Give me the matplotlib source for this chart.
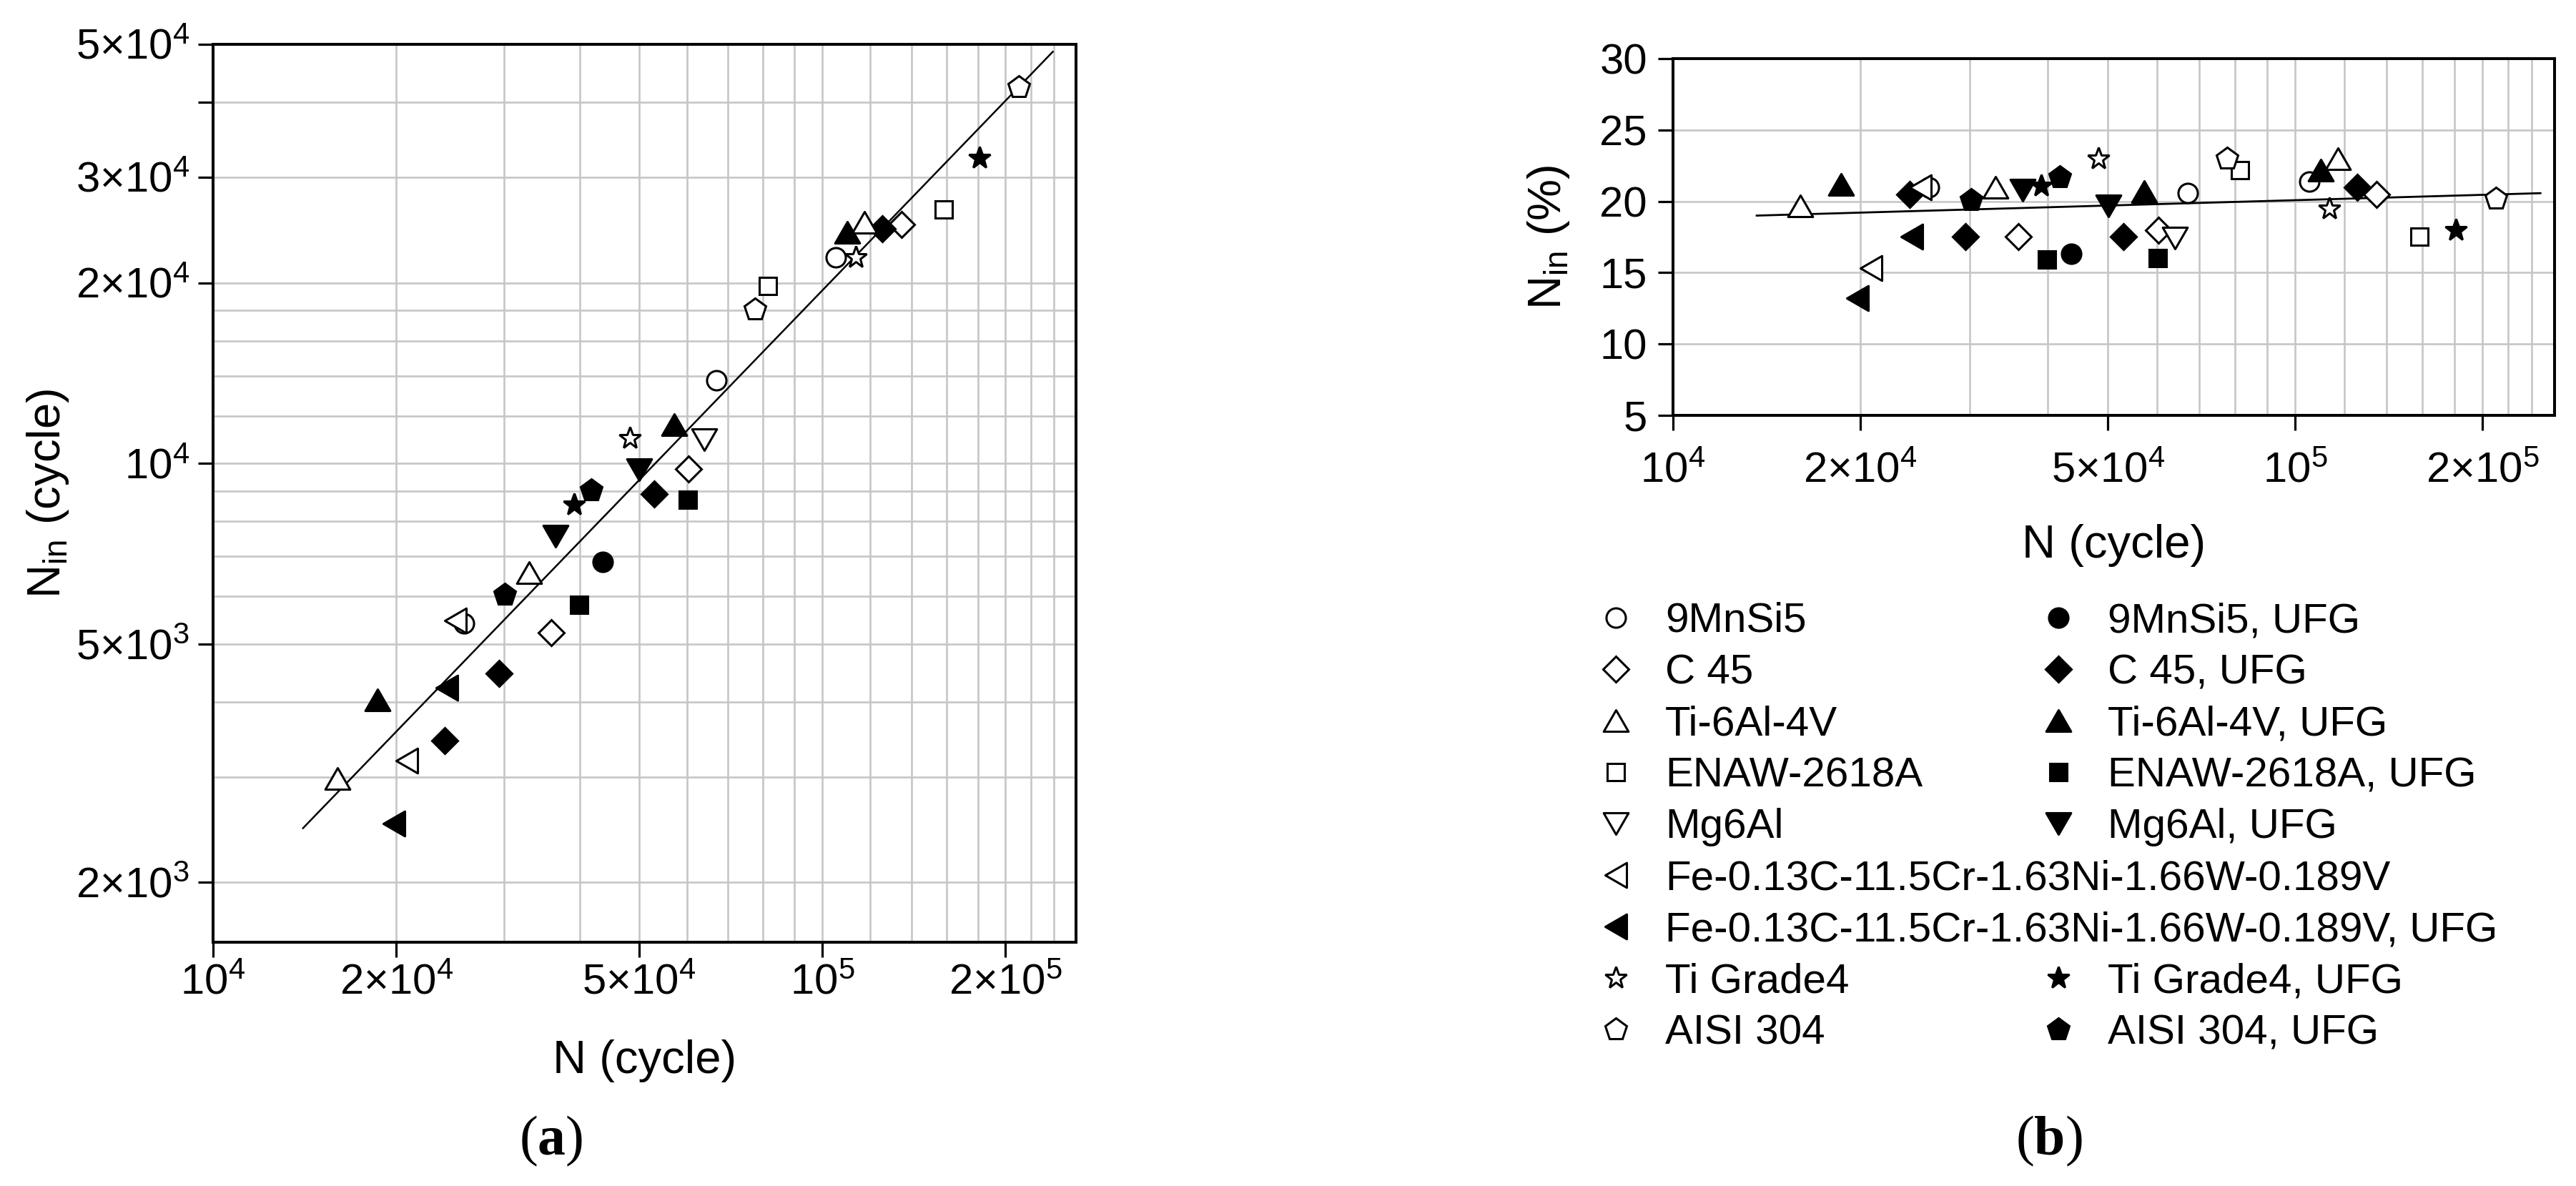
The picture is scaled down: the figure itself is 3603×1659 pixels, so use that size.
import matplotlib
matplotlib.use("Agg")
import matplotlib.pyplot as plt
from matplotlib.path import Path
from matplotlib.lines import Line2D
from matplotlib.ticker import FixedLocator, FixedFormatter, NullFormatter

plt.rcParams["font.family"] = ["Liberation Sans", "DejaVu Sans"]
plt.rcParams["mathtext.fontset"] = "custom"
plt.rcParams["mathtext.rm"] = "Liberation Sans"
plt.rcParams["mathtext.it"] = "Liberation Sans:italic"
plt.rcParams["mathtext.bf"] = "Liberation Serif:bold"

# ---- data ----
# N (cycle), N_in (cycle) for panel (a), N_in (%) for panel (b)
mnsi_n = [25800, 67100, 105200]
mnsi_nin = [5410, 13770, 22080]
mnsi_pct = [21.0, 20.6, 21.4]
mnsi_ufg_n = [43600]
mnsi_ufg_nin = [6850]
mnsi_ufg_pct = [16.3]

c45_n = [35900, 60300, 134900]
c45_nin = [5220, 9790, 25060]
c45_pct = [17.5, 18.0, 20.5]
c45_ufg_n = [24000, 29500, 53000, 125600]
c45_ufg_nin = [3450, 4460, 8900, 24600]
c45_ufg_pct = [20.5, 17.5, 17.5, 21.0]

ti64_n = [16000, 33000, 117200]
ti64_nin = [2980, 6580, 25230]
ti64_pct = [19.7, 21.0, 23.0]
ti64_ufg_n = [18600, 57200, 109900]
ti64_ufg_nin = [4030, 11610, 24280]
ti64_ufg_pct = [21.2, 20.7, 22.2]

enaw_n = [81400, 158100]
enaw_nin = [19770, 26550]
enaw_pct = [22.2, 17.5]
enaw_ufg_n = [39900, 60100]
enaw_ufg_nin = [5810, 8690]
enaw_ufg_pct = [15.9, 16.0]

mg_n = [64100]
mg_nin = [10940]
mg_pct = [17.4]
mg_ufg_n = [36500, 50100]
mg_ufg_nin = [7560, 9770]
mg_ufg_pct = [20.8, 19.7]

fe_n = [20800, 25000]
fe_nin = [3190, 5470]
fe_pct = [15.3, 21.0]
fe_ufg_n = [19800, 24200]
fe_ufg_nin = [2510, 4220]
fe_ufg_pct = [13.2, 17.5]

tig4_n = [48300, 113400]
tig4_nin = [11020, 22080]
tig4_pct = [23.0, 19.5]
tig4_ufg_n = [39100, 181300]
tig4_ufg_nin = [8530, 32280]
tig4_ufg_pct = [21.1, 18.0]

aisi_n = [77600, 210200]
aisi_nin = [18070, 42360]
aisi_pct = [23.0, 20.2]
aisi_ufg_n = [30100, 41800]
aisi_ufg_nin = [6030, 9010]
aisi_ufg_pct = [20.1, 21.7]

# fitted trend lines (end points)
fit_a_n = [14050, 239100]
fit_a_nin = [2464, 48600]
fit_b_n = [13630, 247700]
fit_b_pct = [19.0, 20.57]

# ticks
x_major = [1e4, 2e4, 5e4, 1e5, 2e5]
x_labels = [r"$10^{4}$", r"$2{\times}10^{4}$", r"$5{\times}10^{4}$", r"$10^{5}$", r"$2{\times}10^{5}$"]
x_minor = [3e4, 4e4, 6e4, 7e4, 8e4, 9e4, 1.2e5, 1.4e5, 1.6e5, 1.8e5, 2.2e5, 2.4e5]
ya_major = [2e3, 5e3, 1e4, 2e4, 3e4, 4e4, 5e4]
ya_labels = [r"$2{\times}10^{3}$", r"$5{\times}10^{3}$", r"$10^{4}$", r"$2{\times}10^{4}$",
             r"$3{\times}10^{4}$", "", r"$5{\times}10^{4}$"]
ya_minor = [3e3, 4e3, 6e3, 7e3, 8e3, 9e3, 1.2e4, 1.4e4, 1.6e4, 1.8e4]
yb_major = [5, 10, 15, 20, 25, 30]

fe_label = "Fe-0.13C-11.5Cr-1.63Ni-1.66W-0.189V"

# equilateral triangle markers
tri_up = Path([(-1, -0.866), (1, -0.866), (0, 0.866), (-1, -0.866)], closed=True)
tri_down = Path([(-1, 0.866), (1, 0.866), (0, -0.866), (-1, 0.866)], closed=True)
tri_left = Path([(0.866, 1), (0.866, -1), (-0.866, 0), (0.866, 1)], closed=True)

# label, marker, size, filled, N, N_in, %
series = [
    ("9MnSi5", "o", 19.5, False, mnsi_n, mnsi_nin, mnsi_pct),
    ("9MnSi5, UFG", "o", 19.5, True, mnsi_ufg_n, mnsi_ufg_nin, mnsi_ufg_pct),
    ("C 45", "D", 18, False, c45_n, c45_nin, c45_pct),
    ("C 45, UFG", "D", 18, True, c45_ufg_n, c45_ufg_nin, c45_ufg_pct),
    ("Ti-6Al-4V", tri_up, 25, False, ti64_n, ti64_nin, ti64_pct),
    ("Ti-6Al-4V, UFG", tri_up, 25, True, ti64_ufg_n, ti64_ufg_nin, ti64_ufg_pct),
    ("ENAW-2618A", "s", 17.5, False, enaw_n, enaw_nin, enaw_pct),
    ("ENAW-2618A, UFG", "s", 17.5, True, enaw_ufg_n, enaw_ufg_nin, enaw_ufg_pct),
    ("Mg6Al", tri_down, 25, False, mg_n, mg_nin, mg_pct),
    ("Mg6Al, UFG", tri_down, 25, True, mg_ufg_n, mg_ufg_nin, mg_ufg_pct),
    (fe_label, tri_left, 25, False, fe_n, fe_nin, fe_pct),
    (fe_label + ", UFG", tri_left, 25, True, fe_ufg_n, fe_ufg_nin, fe_ufg_pct),
    ("Ti Grade4", "*", 23, False, tig4_n, tig4_nin, tig4_pct),
    ("Ti Grade4, UFG", "*", 23, True, tig4_ufg_n, tig4_ufg_nin, tig4_ufg_pct),
    ("AISI 304", "p", 23, False, aisi_n, aisi_nin, aisi_pct),
    ("AISI 304, UFG", "p", 23, True, aisi_ufg_n, aisi_ufg_nin, aisi_ufg_pct),
]

W, H = 3603, 1659
fig = plt.figure(figsize=(W / 100, H / 100), dpi=100)
ax_a = fig.add_axes([298 / W, 1 - 1318 / H, 1207 / W, 1256 / H])
ax_b = fig.add_axes([2340 / W, 1 - 581 / H, 1233 / W, 499 / H])

grid_kw = dict(color="#c6c6c6", linewidth=1.9)

for ax in (ax_a, ax_b):
    ax.set_xscale("log")
    ax.set_xlim(1e4, 2.61e5)
    ax.xaxis.set_major_locator(FixedLocator(x_major))
    ax.xaxis.set_major_formatter(FixedFormatter(x_labels))
    ax.xaxis.set_minor_locator(FixedLocator(x_minor))
    ax.xaxis.set_minor_formatter(NullFormatter())
    ax.set_axisbelow(True)
    for sp in ax.spines.values():
        sp.set_linewidth(2.9)
    ax.tick_params(which="major", direction="out", length=15, width=2.3, labelsize=43)
    ax.tick_params(which="minor", length=0)
    ax.grid(True, which="both", axis="x", **grid_kw)

# panel (a)
ax_a.set_yscale("log")
ax_a.set_ylim(1590, 5e4)
ax_a.yaxis.set_major_locator(FixedLocator(ya_major))
ax_a.yaxis.set_major_formatter(FixedFormatter(ya_labels))
ax_a.yaxis.set_minor_locator(FixedLocator(ya_minor))
ax_a.yaxis.set_minor_formatter(NullFormatter())
ax_a.tick_params(which="minor", length=0)
ax_a.tick_params(axis="y", pad=9)
ax_a.tick_params(axis="x", pad=7)
ax_a.grid(True, which="both", axis="y", **grid_kw)
ax_a.plot(fit_a_n, fit_a_nin, color="black", linewidth=1.8, zorder=2)

# panel (b)
ax_b.set_ylim(5, 30)
ax_b.set_yticks(yb_major)
ax_b.tick_params(axis="y", pad=11)
ax_b.tick_params(axis="x", pad=22)
ax_b.grid(True, which="major", axis="y", **grid_kw)
ax_b.plot(fit_b_n, fit_b_pct, color="black", linewidth=2.0, zorder=2)

handles = []
for label, mk, ms, filled, n, nin, pct in series:
    style = dict(linestyle="none", marker=mk, markersize=ms, markeredgewidth=2.2,
                 markeredgecolor="black", markerfacecolor="black" if filled else "white",
                 zorder=3, label=label)
    ax_a.plot(n, nin, **style)
    (h,) = ax_b.plot(n, pct, **style)
    handles.append(h)

# axis labels
ax_a.set_xlabel("N (cycle)", fontsize=47)
ax_a.xaxis.set_label_coords(0.5, -0.108)
ax_a.set_ylabel(r"N$_{\mathrm{in}}$ (cycle)", fontsize=47)
ax_a.yaxis.set_label_coords(-0.165, 0.5)
ax_b.set_xlabel("N (cycle)", fontsize=47)
ax_b.xaxis.set_label_coords(0.5, -0.305)
ax_b.set_ylabel(r"N$_{\mathrm{in}}$ (%)", fontsize=47)
ax_b.yaxis.set_label_coords(-0.115, 0.5)

# legend: two columns, the Fe entries span the full width
blank = Line2D([], [], linestyle="none", marker="none")
left_h = handles[0::2]
left_l = [s[0] for s in series[0::2]]
left_h.insert(6, handles[11])
left_l.insert(6, series[11][0])
right_h = handles[1:10:2] + [blank, blank] + [handles[13], handles[15]]
right_l = [s[0] for s in series[1:10:2]] + [" ", " "] + [series[13][0], series[15][0]]

leg_kw = dict(loc="upper left", bbox_transform=fig.transFigure, frameon=False, fontsize=42,
              handlelength=1.0, handletextpad=0.68, labelspacing=0.31, borderpad=0,
              borderaxespad=0, numpoints=1)
fig.legend(left_h, left_l, bbox_to_anchor=(2231 / W, 1 - 842 / H), **leg_kw)
fig.legend(right_h, right_l, bbox_to_anchor=(2850 / W, 1 - 842 / H), **leg_kw)

# panel captions
fig.text(771 / W, 1 - 1596 / H, r"($\mathbf{a}$)", family="Liberation Serif",
         fontsize=56, ha="center", va="center")
fig.text(2866 / W, 1 - 1596 / H, r"($\mathbf{b}$)", family="Liberation Serif",
         fontsize=56, ha="center", va="center")

fig.savefig("out.png", dpi=100)
